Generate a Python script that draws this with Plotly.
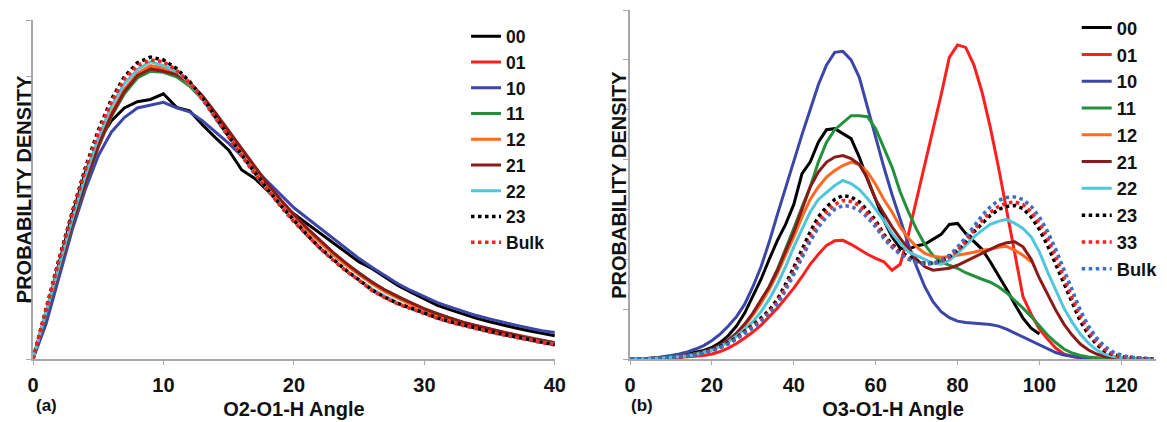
import plotly.graph_objects as go

# ---------------- data: panel (a) O2-O1-H angle ----------------
L_ANGLE = list(range(0, 41))
L_00 = [0, 0.82, 1.7, 2.55, 3.3, 3.85, 4.22, 4.45, 4.56, 4.6, 4.7, 4.46, 4.4, 4.15, 3.92, 3.7, 3.35, 3.2, 2.98, 2.75, 2.57,
        2.4, 2.22, 2.05, 1.88, 1.72, 1.6, 1.45, 1.3, 1.18, 1.06, 0.95, 0.87, 0.79, 0.72, 0.66, 0.6, 0.55, 0.5, 0.45, 0.41]
L_01 = [0, 0.78, 1.58, 2.36, 3.08, 3.75, 4.3, 4.72, 5.0, 5.15, 5.12, 5.02, 4.85, 4.6, 4.3, 3.98, 3.67, 3.36, 3.07, 2.8, 2.54,
        2.3, 2.08, 1.87, 1.68, 1.5, 1.35, 1.21, 1.09, 0.98, 0.88, 0.8, 0.72, 0.65, 0.59, 0.53, 0.48, 0.43, 0.38, 0.33, 0.29]
L_10 = [0, 0.62, 1.45, 2.28, 3.0, 3.6, 4.02, 4.28, 4.45, 4.5, 4.55, 4.45, 4.38, 4.22, 4.02, 3.82, 3.6, 3.37, 3.13, 2.9, 2.68,
        2.5, 2.32, 2.14, 1.96, 1.78, 1.62, 1.47, 1.33, 1.21, 1.1, 1.0, 0.92, 0.84, 0.77, 0.71, 0.65, 0.6, 0.55, 0.5, 0.47]
L_11 = [0, 0.8, 1.6, 2.38, 3.1, 3.76, 4.3, 4.7, 4.98, 5.1, 5.08, 5.0, 4.84, 4.6, 4.31, 4.0, 3.68, 3.37, 3.08, 2.8, 2.55,
        2.31, 2.09, 1.88, 1.69, 1.52, 1.36, 1.22, 1.1, 0.99, 0.89, 0.8, 0.72, 0.65, 0.58, 0.52, 0.47, 0.42, 0.37, 0.32, 0.28]
L_12 = [0, 0.8, 1.62, 2.42, 3.15, 3.82, 4.36, 4.78, 5.06, 5.2, 5.16, 5.05, 4.88, 4.62, 4.32, 4.0, 3.68, 3.36, 3.06, 2.78, 2.52,
        2.28, 2.06, 1.85, 1.66, 1.49, 1.33, 1.19, 1.07, 0.96, 0.86, 0.78, 0.7, 0.63, 0.57, 0.51, 0.46, 0.41, 0.36, 0.31, 0.27]
L_21 = [0, 0.79, 1.6, 2.4, 3.12, 3.78, 4.32, 4.74, 5.02, 5.14, 5.1, 5.04, 4.9, 4.66, 4.36, 4.04, 3.72, 3.4, 3.1, 2.82, 2.56,
        2.32, 2.1, 1.89, 1.7, 1.52, 1.36, 1.22, 1.1, 0.99, 0.89, 0.8, 0.72, 0.65, 0.59, 0.53, 0.47, 0.42, 0.37, 0.33, 0.29]
L_22 = [0, 0.84, 1.68, 2.48, 3.24, 3.92, 4.48, 4.88, 5.13, 5.27, 5.2, 5.1, 4.9, 4.6, 4.26, 3.93, 3.6, 3.28, 2.99, 2.71, 2.44,
        2.2, 1.97, 1.76, 1.57, 1.4, 1.24, 1.11, 0.99, 0.89, 0.8, 0.72, 0.65, 0.59, 0.53, 0.48, 0.43, 0.38, 0.34, 0.3, 0.26]
L_23 = [0, 0.9, 1.78, 2.6, 3.38, 4.05, 4.6, 5.0, 5.25, 5.35, 5.3, 5.15, 4.92, 4.63, 4.28, 3.95, 3.62, 3.3, 3.0, 2.72, 2.45,
        2.2, 1.97, 1.76, 1.57, 1.4, 1.22, 1.09, 0.98, 0.9, 0.81, 0.73, 0.66, 0.6, 0.54, 0.49, 0.44, 0.39, 0.34, 0.29, 0.25]
L_BULK = [0, 0.88, 1.75, 2.57, 3.34, 4.0, 4.55, 4.96, 5.2, 5.3, 5.27, 5.12, 4.9, 4.6, 4.26, 3.93, 3.6, 3.28, 2.98, 2.7, 2.43,
          2.19, 1.96, 1.75, 1.56, 1.39, 1.21, 1.08, 0.97, 0.89, 0.8, 0.72, 0.65, 0.59, 0.53, 0.48, 0.43, 0.38, 0.33, 0.29, 0.25]

# ---------------- data: panel (b) O3-O1-H angle ----------------
R_ANGLE = list(range(0, 129, 2))
R_00 = [0, 0, 0.01, 0.02, 0.03, 0.05, 0.07, 0.1, 0.13, 0.17,
        0.23, 0.33, 0.47, 0.66, 0.92, 1.25, 1.6, 2.0, 2.38, 2.7,
        3.1, 3.72, 3.95, 4.35, 4.6, 4.62, 4.52, 4.42, 4.05, 3.6,
        3.2, 2.78, 2.45, 2.22, 2.2, 2.27, 2.3, 2.4, 2.5, 2.7,
        2.72, 2.52, 2.35, 2.2, 1.95, 1.68, 1.4, 1.1, 0.82, 0.62,
        0.5]
R_01 = [0, 0, 0, 0.01, 0.01, 0.02, 0.03, 0.04, 0.05, 0.07,
        0.1, 0.15, 0.22, 0.31, 0.42, 0.54, 0.68, 0.85, 1.02, 1.22,
        1.42, 1.65, 1.9, 2.1, 2.28, 2.37, 2.38, 2.3, 2.2, 2.1,
        2.02, 1.95, 1.78, 1.9, 2.5, 3.2, 3.85, 4.55, 5.3, 6.05,
        6.3, 6.25, 5.9, 5.35, 4.65, 3.85, 3.0, 2.1, 1.25, 0.9,
        0.6, 0.4, 0.22, 0.1, 0.05, 0.02, 0.01, 0, 0, 0,
        0, 0, 0, 0, 0]
R_10 = [0, 0, 0.01, 0.02, 0.04, 0.07, 0.1, 0.14, 0.2, 0.27,
        0.37, 0.5, 0.66, 0.85, 1.1, 1.45, 1.85, 2.35, 2.9, 3.45,
        4.0, 4.5, 5.0, 5.5, 5.9, 6.15, 6.17, 6.0, 5.65, 5.05,
        4.4, 3.85, 3.3, 2.8, 2.3, 1.85, 1.45, 1.15, 0.95, 0.83,
        0.76, 0.73, 0.72, 0.71, 0.69, 0.66, 0.6, 0.52, 0.44, 0.36,
        0.28, 0.2, 0.13, 0.08, 0.05, 0.03, 0.02, 0.01, 0, 0,
        0, 0, 0, 0, 0]
R_11 = [0, 0, 0, 0.01, 0.02, 0.03, 0.05, 0.07, 0.1, 0.14,
        0.19, 0.26, 0.36, 0.5, 0.68, 0.9, 1.15, 1.45, 1.8, 2.2,
        2.62, 3.05, 3.45, 3.95, 4.35, 4.6, 4.75, 4.88, 4.88, 4.86,
        4.62, 4.25, 3.85, 3.35, 2.95, 2.6, 2.3, 2.08, 1.95, 1.88,
        1.82, 1.73, 1.66, 1.6, 1.54, 1.45, 1.33, 1.18, 1.02, 0.85,
        0.66, 0.48, 0.33, 0.2, 0.12, 0.07, 0.04, 0.02, 0.01, 0,
        0, 0, 0, 0, 0]
R_12 = [0, 0, 0, 0.01, 0.02, 0.03, 0.05, 0.07, 0.1, 0.14,
        0.19, 0.27, 0.37, 0.5, 0.67, 0.88, 1.12, 1.4, 1.72, 2.08,
        2.45, 2.85, 3.2, 3.45, 3.65, 3.78, 3.88, 3.95, 3.9, 3.75,
        3.5, 3.2, 2.95, 2.65, 2.42, 2.25, 2.12, 2.06, 2.04, 2.05,
        2.08, 2.1, 2.14, 2.18, 2.2, 2.24, 2.26, 2.18, 2.08, 1.95]
R_21 = [0, 0, 0, 0.01, 0.02, 0.03, 0.05, 0.07, 0.1, 0.15,
        0.2, 0.28, 0.38, 0.52, 0.7, 0.92, 1.18, 1.45, 1.78, 2.15,
        2.55, 3.0, 3.45, 3.75, 3.95, 4.05, 4.08, 4.02, 3.9, 3.62,
        3.2, 2.92, 2.65, 2.42, 2.22, 2.0, 1.85, 1.78, 1.8, 1.82,
        1.88, 1.96, 2.05, 2.12, 2.2, 2.28, 2.33, 2.35, 2.25, 2.0,
        1.62, 1.3, 0.98, 0.7, 0.48, 0.3, 0.18, 0.1, 0.05, 0.03,
        0.01, 0, 0, 0, 0]
R_22 = [0, 0, 0, 0.01, 0.02, 0.03, 0.04, 0.06, 0.09, 0.13,
        0.18, 0.25, 0.34, 0.46, 0.6, 0.75, 0.95, 1.2, 1.5, 1.85,
        2.25, 2.6, 2.95, 3.2, 3.35, 3.48, 3.58, 3.52, 3.4, 3.22,
        3.0, 2.78, 2.52, 2.32, 2.15, 2.08, 2.0, 1.92, 1.9, 1.98,
        2.12, 2.28, 2.45, 2.58, 2.7, 2.76, 2.8, 2.72, 2.62, 2.45,
        2.15, 1.75, 1.38, 1.02, 0.74, 0.5, 0.32, 0.18, 0.1, 0.05,
        0.03, 0.01, 0, 0, 0]
R_23 = [0, 0, 0, 0.01, 0.02, 0.03, 0.04, 0.06, 0.09, 0.13,
        0.18, 0.25, 0.33, 0.43, 0.55, 0.68, 0.82, 0.98, 1.2, 1.5,
        1.84, 2.2, 2.55, 2.85, 3.05, 3.2, 3.28, 3.25, 3.15, 2.98,
        2.78, 2.5, 2.3, 2.15, 2.05, 1.96, 1.92, 1.92, 1.97, 2.05,
        2.18, 2.35, 2.55, 2.72, 2.88, 3.0, 3.06, 3.08, 3.02, 2.85,
        2.6, 2.28, 1.9, 1.48, 1.1, 0.76, 0.49, 0.29, 0.16, 0.09,
        0.05, 0.03, 0.02, 0.01, 0]
R_33 = [0, 0, 0, 0.01, 0.02, 0.03, 0.04, 0.06, 0.08, 0.12,
        0.17, 0.23, 0.31, 0.41, 0.53, 0.64, 0.78, 0.94, 1.14, 1.44,
        1.77, 2.12, 2.45, 2.75, 2.95, 3.1, 3.18, 3.16, 3.08, 2.92,
        2.72, 2.46, 2.27, 2.12, 2.02, 1.94, 1.91, 1.91, 1.96, 2.04,
        2.18, 2.36, 2.58, 2.78, 2.94, 3.06, 3.13, 3.15, 3.1, 2.95,
        2.72, 2.42, 2.05, 1.62, 1.22, 0.86, 0.56, 0.34, 0.19, 0.1,
        0.05, 0.03, 0.02, 0.01, 0]
R_BULK = [0, 0, 0, 0.01, 0.02, 0.03, 0.04, 0.06, 0.08, 0.12,
          0.17, 0.23, 0.3, 0.4, 0.51, 0.62, 0.76, 0.91, 1.1, 1.38,
          1.7, 2.03, 2.36, 2.64, 2.85, 3.0, 3.08, 3.06, 2.98, 2.84,
          2.65, 2.42, 2.24, 2.1, 2.0, 1.93, 1.9, 1.92, 1.98, 2.08,
          2.24, 2.44, 2.66, 2.88, 3.05, 3.18, 3.24, 3.25, 3.2, 3.06,
          2.85, 2.56, 2.2, 1.78, 1.36, 0.98, 0.66, 0.42, 0.25, 0.14,
          0.08, 0.04, 0.02, 0.01, 0]

L_TICKS = [0, 10, 20, 30, 40]
R_TICKS = [0, 20, 40, 60, 80, 100, 120]

# ---------------- styles ----------------
C_BLACK = "#000000"
C_RED = "#ff1f1f"
C_BLUE = "#3c46a8"
C_GREEN = "#23913c"
C_ORANGE = "#ff6a20"
C_BROWN = "#8b1a1a"
C_CYAN = "#4ec6dc"
C_DBLUE = "#3b6fc6"

FONT = "Liberation Sans, Arial, sans-serif"
AXIS_GREY = "#a8a8a8"

left_series = [
    ("00", L_00, C_BLACK, "solid"),
    ("01", L_01, C_RED, "solid"),
    ("10", L_10, C_BLUE, "solid"),
    ("11", L_11, C_GREEN, "solid"),
    ("12", L_12, C_ORANGE, "solid"),
    ("21", L_21, C_BROWN, "solid"),
    ("22", L_22, C_CYAN, "solid"),
    ("23", L_23, C_BLACK, "dot"),
    ("Bulk", L_BULK, C_RED, "dot"),
]
right_series = [
    ("00", R_00, C_BLACK, "solid"),
    ("01", R_01, C_RED, "solid"),
    ("10", R_10, C_BLUE, "solid"),
    ("11", R_11, C_GREEN, "solid"),
    ("12", R_12, C_ORANGE, "solid"),
    ("21", R_21, C_BROWN, "solid"),
    ("22", R_22, C_CYAN, "solid"),
    ("23", R_23, C_BLACK, "dot"),
    ("33", R_33, C_RED, "dot"),
    ("Bulk", R_BULK, C_DBLUE, "dot"),
]

fig = go.Figure()
for name, vals, color, dash in left_series:
    fig.add_trace(go.Scatter(
        x=L_ANGLE[:len(vals)], y=vals, name=name, mode="lines",
        line=dict(color=color, width=3 if dash == "solid" else 3.5, dash=dash),
        xaxis="x", yaxis="y", legend="legend"))
for name, vals, color, dash in right_series:
    fig.add_trace(go.Scatter(
        x=R_ANGLE[:len(vals)], y=vals, name=name, mode="lines",
        line=dict(color=color, width=3 if dash == "solid" else 3.5, dash=dash),
        xaxis="x2", yaxis="y2", legend="legend2"))

bold = dict(family=FONT, color="#111111", weight="bold")
common_x = dict(showline=True, linecolor=AXIS_GREY, linewidth=1.5, ticks="outside", ticklen=4,
                tickcolor=AXIS_GREY, showgrid=False, zeroline=False,
                tickfont=dict(size=20, **bold), ticklabelstandoff=3)
common_y = dict(showline=True, linecolor=AXIS_GREY, linewidth=1.5, ticks="outside", ticklen=5,
                tickcolor=AXIS_GREY, showgrid=False, zeroline=False, showticklabels=False, dtick=1)

# page has an 8px body margin, so the figure is 8px smaller than the window
fig.update_layout(
    width=1159, height=414,
    margin=dict(l=25, r=0, t=2, b=63),
    paper_bgcolor="white", plot_bgcolor="white",
    font=dict(family=FONT, color="#111111"),
    xaxis=dict(domain=[0, 0.4647], range=[0, 40], tickvals=L_TICKS, anchor="y",
               title=dict(text="O2-O1-H Angle", font=dict(size=20, **bold), standoff=7), **common_x),
    yaxis=dict(domain=[0, 0.97], range=[0, 6], anchor="x", **common_y),
    xaxis2=dict(domain=[0.5317, 1], range=[0, 128.5], tickvals=R_TICKS, anchor="y2",
                title=dict(text="O3-O1-H Angle", font=dict(size=20, **bold), standoff=7), **common_x),
    yaxis2=dict(domain=[0, 1], range=[0, 7], anchor="x2", **common_y),
    legend=dict(x=0.3856, y=0.976, xanchor="left", yanchor="top", bgcolor="rgba(0,0,0,0)",
                font=dict(size=17.5, **bold), itemwidth=30),
    legend2=dict(x=0.9294, y=0.604, xanchor="left", yanchor="middle", bgcolor="rgba(0,0,0,0)",
                 font=dict(size=18.3, **bold), itemwidth=30),
    showlegend=True,
    annotations=[
        dict(text="PROBABILITY DENSITY", xref="paper", yref="paper", x=-0.0079, y=0.487,
             textangle=-90, showarrow=False, xanchor="center", yanchor="middle",
             font=dict(size=20, **bold)),
        dict(text="PROBABILITY DENSITY", xref="paper", yref="paper", x=0.5212, y=0.5,
             textangle=-90, showarrow=False, xanchor="center", yanchor="middle",
             font=dict(size=20, **bold)),
        dict(text="(a)", xref="paper", yref="paper", x=0.0123, y=-0.132, showarrow=False,
             xanchor="center", yanchor="middle", font=dict(size=17, **bold)),
        dict(text="(b)", xref="paper", yref="paper", x=0.5423, y=-0.132, showarrow=False,
             xanchor="center", yanchor="middle", font=dict(size=17, **bold)),
    ],
)

fig.write_html("out.html")
